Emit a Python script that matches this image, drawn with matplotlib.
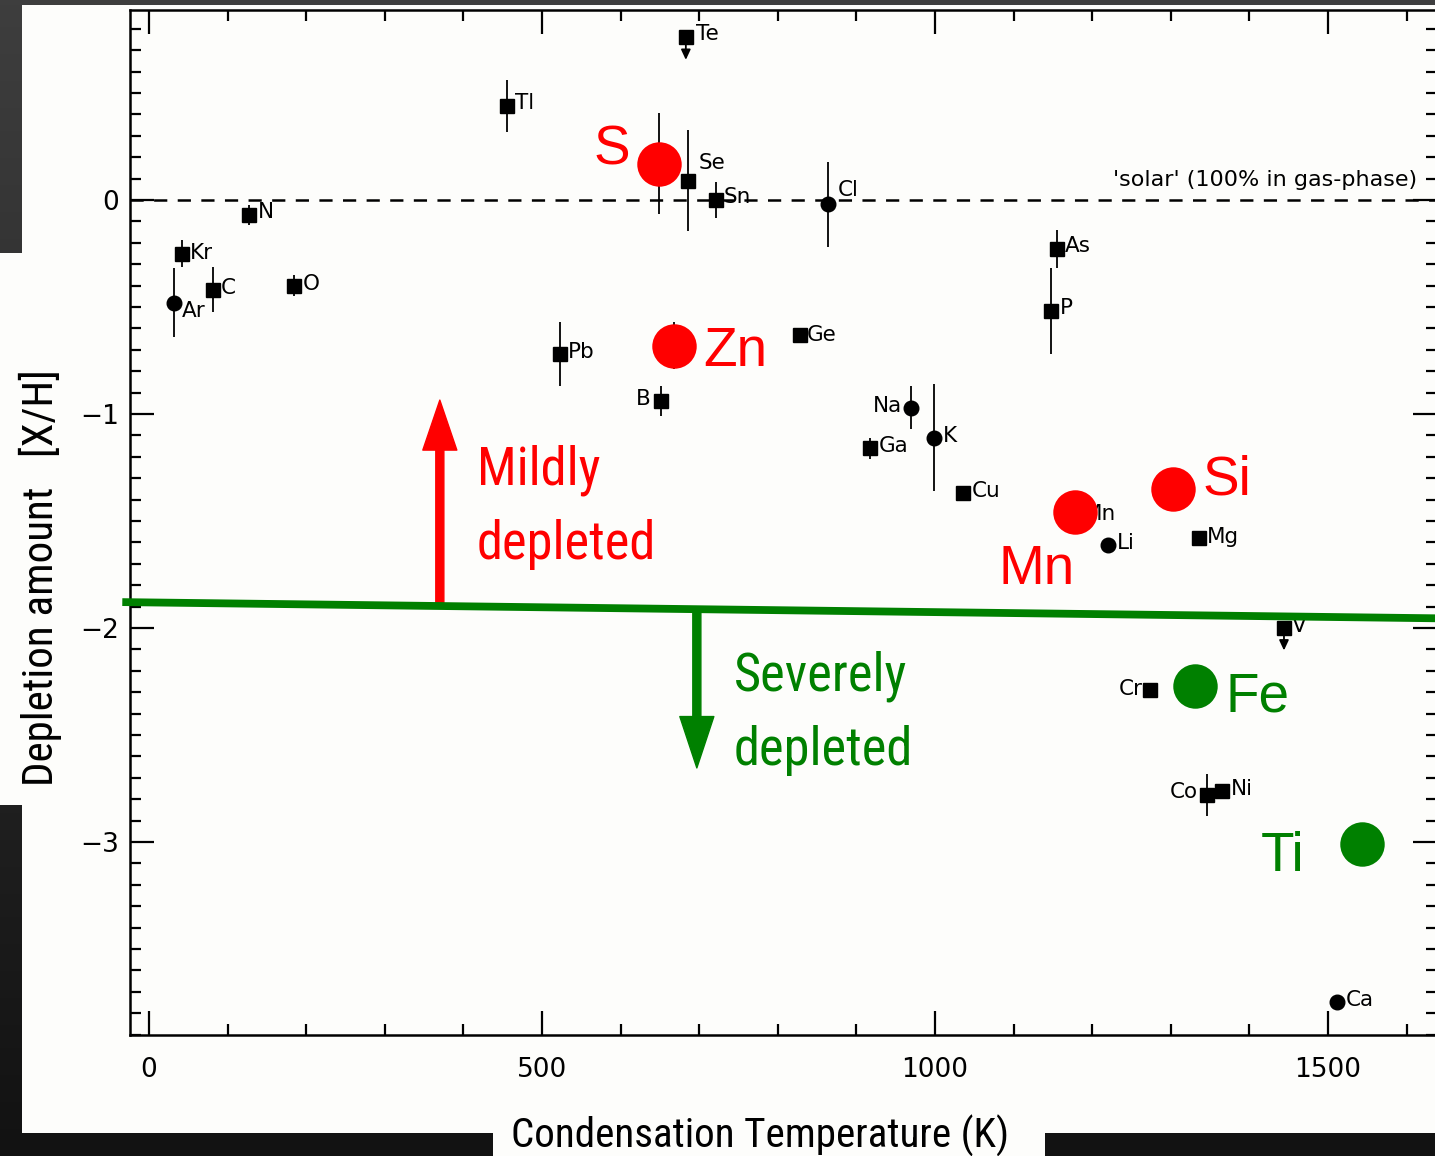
import numpy as np
import matplotlib
matplotlib.use("Agg")
import matplotlib.pyplot as plt
from matplotlib import font_manager as fm
from matplotlib.patches import Rectangle, FancyArrowPatch, ArrowStyle
from matplotlib.colors import LinearSegmentedColormap
from matplotlib.ticker import MultipleLocator

plt.rcParams["lines.scale_dashes"] = False

W, H, DPI = 1435, 1156, 100

# ---- interstellar gas-phase depletions vs. condensation temperature ----
elements = ["Te", "Tl", "S", "Se", "Sn", "Cl", "N", "Kr", "Ar", "C", "O", "Pb",
            "Zn", "Ge", "B", "Na", "K", "Ga", "Cu", "As", "P", "Mn", "Li", "Si",
            "Mg", "V", "Cr", "Fe", "Co", "Ni", "Ti", "Ca"]
cond_temp = [683, 455, 649, 686, 721, 864, 127, 42, 32, 81, 184, 523,
             668, 828, 651, 969, 999, 917, 1036, 1155, 1148, 1178, 1220, 1303,
             1336, 1444, 1274, 1331, 1346, 1365, 1543, 1511]
depletion = [0.76, 0.44, 0.17, 0.09, 0.00, -0.02, -0.07, -0.25, -0.48, -0.42, -0.40, -0.72,
             -0.68, -0.63, -0.94, -0.97, -1.11, -1.16, -1.37, -0.23, -0.52, -1.46, -1.61, -1.35,
             -1.58, -2.00, -2.29, -2.27, -2.78, -2.76, -3.01, -3.75]
dep_err = [0.0, 0.12, 0.235, 0.235, 0.085, 0.20, 0.045, 0.063, 0.16, 0.105, 0.05, 0.15,
           0.11, 0.0, 0.07, 0.10, 0.25, 0.05, 0.02, 0.09, 0.20, 0.0, 0.03, 0.0,
           0.0, 0.0, 0.0, 0.0, 0.10, 0.0, 0.0, 0.03]
circle_elems = ["Cl", "Ar", "Na", "K", "Li", "Ca"]
upper_limits = ["Te", "V"]

# elements singled out with large coloured dots
mild_elems = ["S", "Zn", "Mn", "Si"]
severe_elems = ["Fe", "Ti"]

# label placement for the small element tags: (dx px, dy px, alignment)
tag_pos = {
    "Te": (10, 3, "left"), "Tl": (8, 3, "left"), "Se": (10, 18, "left"),
    "Sn": (8, 3, "left"), "Cl": (10, 14, "left"), "N": (9, 3, "left"),
    "Kr": (8, 1, "left"), "Ar": (8, -8, "left"), "C": (8, 2, "left"),
    "O": (9, 2, "left"), "Pb": (8, 2, "left"), "Ge": (7, 0, "left"),
    "B": (-10, 2, "right"), "Na": (-9, 2, "right"), "K": (9, 2, "left"),
    "Ga": (9, 2, "left"), "Cu": (8, 2, "left"), "As": (8, 3, "left"),
    "P": (9, 3, "left"), "Mn": (9, -2, "left"), "Li": (9, 2, "left"),
    "Mg": (8, 1, "left"), "V": (8, 2, "left"), "Cr": (-8, 1, "right"),
    "Co": (-9, 3, "right"), "Ni": (9, 2, "left"), "Ca": (9, 2, "left"),
}
big_tag_pos = {
    "S": (-29, 13, "right"), "Zn": (29, -6, "left"), "Mn": (0, -58, "right"),
    "Si": (29, 8, "left"), "Fe": (30, -12, "left"), "Ti": (-57, -13, "right"),
}

RED = "#ff0000"
GREEN = "#008000"
PAPER = "#fdfdfb"


def narrow_font():
    """Return FontProperties for an installed condensed sans face, if any."""
    preferred = ["Roboto Condensed", "Open Sans Condensed", "Noto Sans Condensed",
                 "Liberation Sans Narrow", "DejaVu Sans Condensed", "Lato"]
    found = []
    for f in fm.fontManager.ttflist:
        w = f.weight if isinstance(f.weight, int) else {"normal": 400, "regular": 400}.get(str(f.weight), 0)
        narrowish = ("Condensed" in f.name or "Narrow" in f.name
                     or str(f.stretch) in ("condensed", "semi-condensed", "extra-condensed"))
        fn = f.fname.lower()
        if narrowish and f.style == "normal" and w in (400,) and "bold" not in fn and "light" not in fn:
            found.append(f)
    if found:
        def rank(f):
            for k, p in enumerate(preferred):
                if f.name == p:
                    return k
            return len(preferred)
        found.sort(key=lambda f: (rank(f), f.fname))
        return fm.FontProperties(fname=found[0].fname), True
    return fm.FontProperties(family="DejaVu Sans"), False


NARROW_FP, HAVE_NARROW = narrow_font()
SHRINK = 1.0 if HAVE_NARROW else 0.8


def fx(px):
    return px / W


def fy(py):
    return 1 - py / H


def narrow_text(x, y, s, size, **kw):
    fp = NARROW_FP.copy()
    fp.set_size(size * SHRINK)
    return fig.text(fx(x), fy(y), s, fontproperties=fp, **kw)


fig = plt.figure(figsize=(W / DPI, H / DPI), dpi=DPI)

# dark surround with paper panels
bg = fig.add_axes([0, 0, 1, 1], zorder=-10)
bg.set_xlim(0, W)
bg.set_ylim(H, 0)
bg.axis("off")
shade = LinearSegmentedColormap.from_list("shade", ["#3e3e3e", "#121212"])
bg.imshow(np.linspace(0, 1, 256)[:, None], cmap=shade, extent=(0, W, H, 0), aspect="auto")
bg.add_patch(Rectangle((22, 5), W - 22, 1133 - 5, fc=PAPER, ec="none"))
bg.add_patch(Rectangle((0, 253), 80, 805 - 253, fc=PAPER, ec="none"))
bg.add_patch(Rectangle((493, 1095), 1045 - 493, H - 1095, fc=PAPER, ec="none"))

ax = fig.add_axes([fx(130), fy(1035), (1437 - 130) / W, (1035 - 10) / H])
ax.set_facecolor("none")
ax.set_xlim(-24.2, 1638.7)
ax.set_ylim(-3.902, 0.888)

ax.set_xticks([0, 500, 1000, 1500])
ax.xaxis.set_minor_locator(MultipleLocator(100))
ax.set_yticks([-3, -2, -1, 0])
ax.yaxis.set_minor_locator(MultipleLocator(0.1))
ax.tick_params(which="both", direction="in", top=True, right=True, width=1.6)
ax.tick_params(which="major", length=17)
ax.tick_params(which="minor", length=8)
ax.tick_params(axis="x", which="major", labelsize=19, pad=16)
ax.tick_params(axis="y", which="major", labelsize=19, pad=8)
for sp in ax.spines.values():
    sp.set_linewidth(1.8)

# solar reference level
ax.axhline(0, color="black", lw=1.8, dashes=(9.5, 7.5), zorder=1)
ax.text(1614, 0.093, "'solar' (100% in gas-phase)", ha="right", va="center",
        fontsize=16, color="black")

T = np.array(cond_temp, float)
D = np.array(depletion, float)
E = np.array(dep_err, float)
is_circ = np.array([e in circle_elems for e in elements])

for mask, mk in ((~is_circ, "s"), (is_circ, "o")):
    ax.errorbar(T[mask], D[mask], yerr=E[mask], fmt=mk, ms=10.5, color="black",
                ecolor="black", elinewidth=1.3, capsize=0, zorder=3)

for name in upper_limits:
    i = elements.index(name)
    ax.annotate("", xy=(T[i], D[i] - 0.105), xytext=(T[i], D[i]),
                arrowprops=dict(arrowstyle="-|>,head_length=0.6,head_width=0.28",
                                lw=1.3, color="black", shrinkA=0, shrinkB=0),
                zorder=3)

for name, (dx, dy, ha) in tag_pos.items():
    i = elements.index(name)
    ax.annotate(name, (T[i], D[i]), xytext=(dx, dy), textcoords="offset pixels",
                ha=ha, va="center", fontsize=15.5, color="black", zorder=3)

# mild / severe threshold and arrows
ax.plot([-34, 1645], [-1.879, -1.955], color=GREEN, lw=5.6, clip_on=False,
        solid_capstyle="butt", zorder=4)
ax.add_patch(FancyArrowPatch((370, -1.89), (370, -0.935),
                             arrowstyle=ArrowStyle.Simple(head_length=36, head_width=24.5, tail_width=5.8),
                             mutation_scale=1, color=RED, shrinkA=0, shrinkB=0, zorder=3.5))
ax.add_patch(FancyArrowPatch((697, -1.91), (697, -2.654),
                             arrowstyle=ArrowStyle.Simple(head_length=37, head_width=24.5, tail_width=5.8),
                             mutation_scale=1, color=GREEN, shrinkA=0, shrinkB=0, zorder=3.5))

for group, col in ((mild_elems, RED), (severe_elems, GREEN)):
    for name in group:
        i = elements.index(name)
        ax.plot(T[i], D[i], "o", ms=32, color=col, mec="none", zorder=5)
        dx, dy, ha = big_tag_pos[name]
        ax.annotate(name, (T[i], D[i]), xytext=(dx, dy), textcoords="offset pixels",
                    ha=ha, va="center", fontsize=39.5, color=col,
                    family="Liberation Sans", zorder=6)

narrow_text(477, 485, "Mildly", 37.8, color=RED, va="baseline")
narrow_text(477, 559, "depleted", 37.8, color=RED, va="baseline")
narrow_text(734, 690, "Severely", 37.8, color=GREEN, va="baseline")
narrow_text(734, 765, "depleted", 37.8, color=GREEN, va="baseline")

narrow_text(53, 578, "Depletion amount   [X/H]", 31, rotation=90, rotation_mode="anchor",
            ha="center", va="baseline", color="black")
narrow_text(760, 1148, "Condensation Temperature (K)", 29.6, ha="center", va="baseline",
            color="black")

fig.savefig("out.png", dpi=DPI)
